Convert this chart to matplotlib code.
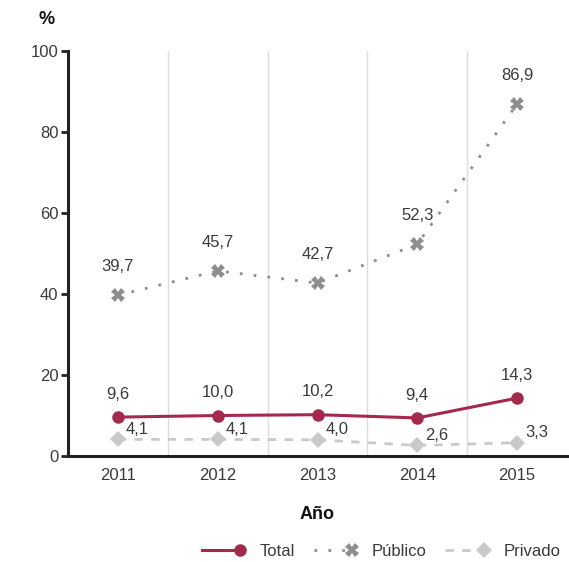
import matplotlib
matplotlib.use("Agg")
import matplotlib.pyplot as plt
from matplotlib.lines import Line2D
from matplotlib.legend_handler import HandlerBase

# data
years = [2011, 2012, 2013, 2014, 2015]
total = [9.6, 10.0, 10.2, 9.4, 14.3]
publico = [39.7, 45.7, 42.7, 52.3, 86.9]
privado = [4.1, 4.1, 4.0, 2.6, 3.3]
y_ticks = [0, 20, 40, 60, 80, 100]

plt.rcParams['font.family'] = ['Liberation Sans Narrow', 'Liberation Sans', 'DejaVu Sans']
txt = '#3a3a3a'
c_total = '#a3294d'
c_pub = '#8e8e8e'
c_priv = '#c9c9c9'


# legend handle: line with the marker at its right end
class EndMarkerHandler(HandlerBase):
    def create_artists(self, legend, orig, xdescent, ydescent, width, height, fontsize, trans):
        y = height / 2 - ydescent
        x0, x1 = -xdescent, width - xdescent
        line = Line2D([x0, x1], [y, y])
        line.update_from(orig)
        line.set_marker('None')
        mk = Line2D([x1], [y])
        mk.update_from(orig)
        mk.set_linestyle('None')
        for a in (line, mk):
            a.set_clip_box(None)
            a.set_clip_on(False)
            a.set_transform(trans)
        return [line, mk]


fig = plt.figure(figsize=(5.69, 5.62), dpi=100)
ax = fig.add_axes([68/569, 106/562, 499/569, 405/562])

ax.set_xlim(2010.5, 2015.5)
ax.set_ylim(0, 100)

# vertical separators between years
for x in [2011.5, 2012.5, 2013.5, 2014.5]:
    ax.axvline(x, color='#dcdcdc', linewidth=1, zorder=0)

l_pub, = ax.plot(years, publico, linestyle=(0, (1, 4)), linewidth=2, color=c_pub,
                 marker='X', markersize=10, markeredgewidth=0, zorder=3)
l_priv, = ax.plot(years, privado, linestyle=(0, (3, 3)), linewidth=2, color=c_priv,
                  marker='D', markersize=8, markeredgewidth=0, zorder=3)
l_tot, = ax.plot(years, total, linestyle='-', linewidth=2.2, color=c_total,
                 marker='o', markersize=9, markeredgewidth=0, zorder=4)

def fmt(v):
    return f'{v:.1f}'.replace('.', ',')

for x, v in zip(years, publico):
    ax.annotate(fmt(v), (x, v), xytext=(0, 15), textcoords='offset points',
                ha='center', va='bottom', fontsize=12, color=txt)
for x, v in zip(years, total):
    ax.annotate(fmt(v), (x, v), xytext=(0, 11), textcoords='offset points',
                ha='center', va='bottom', fontsize=12, color=txt)
for x, v in zip(years, privado):
    ax.annotate(fmt(v), (x, v), xytext=(14, 2), textcoords='offset points',
                ha='center', va='bottom', fontsize=12, color=txt)

for s in ['top', 'right']:
    ax.spines[s].set_visible(False)
for s in ['left', 'bottom']:
    ax.spines[s].set_linewidth(2.2)
    ax.spines[s].set_color('#222222')

ax.set_yticks(y_ticks)
ax.set_xticks(years)
ax.tick_params(axis='y', length=5, width=2, color='#222222', labelsize=12, labelcolor=txt, pad=2)
ax.tick_params(axis='x', length=0, labelsize=12, labelcolor=txt, pad=9)

ax.set_xlabel('Año', fontsize=13, fontweight='bold', color='#111111', labelpad=16)
fig.text(47/569, 1 - 20/562, '%', fontsize=13, fontweight='bold', color='#111111',
         ha='center', va='center')

fig.legend([l_tot, l_pub, l_priv], ['Total', 'Público', 'Privado'], loc='center right',
           bbox_to_anchor=(1.0, 1 - 551/562), ncol=3, frameon=False,
           fontsize=12, labelcolor=txt, handlelength=2.3, handletextpad=1.2,
           columnspacing=1.1, borderaxespad=0.1,
           handler_map={Line2D: EndMarkerHandler()})

fig.savefig('out.png', dpi=100)
